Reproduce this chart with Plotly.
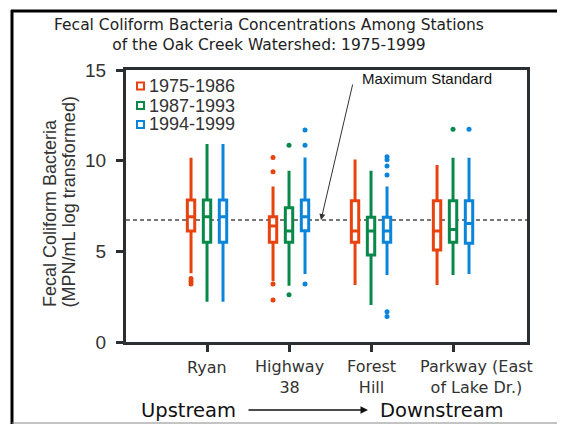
import plotly.graph_objects as go

# ---------------- data ----------------
stations = ["Ryan", "Highway 38", "Forest Hill", "Parkway (East of Lake Dr.)"]
station_lines = [["Ryan"], ["Highway", "38"], ["Forest", "Hill"], ["Parkway (East", "of Lake Dr.)"]]
periods = ["1975-1986", "1987-1993", "1994-1999"]

upper_1975 = [10.16, 8.57, 10.07, 9.76]
q3_1975 = [7.83, 6.91, 7.79, 7.79]
median_1975 = [6.91, 6.40, 6.12, 6.12]
q1_1975 = [6.12, 5.50, 5.50, 5.07]
lower_1975 = [3.79, 3.36, 3.14, 3.14]
outliers_1975 = [[3.5, 3.35, 3.2], [10.18, 9.39, 3.2, 2.32], [], []]

upper_1987 = [10.92, 9.45, 9.45, 10.16]
q3_1987 = [7.83, 7.41, 6.88, 7.79]
median_1987 = [6.91, 6.12, 6.12, 6.21]
q1_1987 = [5.50, 5.50, 4.80, 5.50]
lower_1987 = [2.22, 3.10, 2.04, 3.69]
outliers_1987 = [[], [10.85, 2.61], [], [11.73]]

upper_1994 = [10.92, 10.18, 8.57, 10.16]
q3_1994 = [7.83, 7.83, 6.88, 7.79]
median_1994 = [6.91, 6.91, 6.12, 6.54]
q1_1994 = [5.50, 6.14, 5.50, 5.44]
lower_1994 = [2.22, 3.75, 3.69, 3.75]
outliers_1994 = [[], [11.69, 10.85, 3.2], [10.22, 10.05, 9.7, 9.21, 1.67, 1.40], [11.73]]

max_standard = 6.73
y_ticks = [0, 5, 10, 15]

# ---------------- style / geometry ----------------
colors = ["#E8420F", "#08894A", "#0A85DA"]
offsets = [-0.195, 0.0, 0.195]
label_shift_px = [0, 0, 0, 23]      # last station label sits right of its tick
label_font = 16
label_first_line_px = 367
axis_color = "#2b2f31"
text_color = "#333333"

OFF = 8  # page body margin of the browser
W, H = 565 - OFF, 424 - OFF
L = 126 - OFF
T = 70 - OFF
R = W - (527 - OFF)
B = H - (342 - OFF)
PW, PH = W - L - R, H - T - B
X_RANGE = [-0.988, 3.902]
UNIT_PX = PW / (X_RANGE[1] - X_RANGE[0])


def xp(px):
    """window pixel x -> paper coordinate"""
    return (px - OFF - L) / PW


def yp(py):
    """window pixel y -> paper coordinate"""
    return (H - B - (py - OFF)) / PH


series = [
    (upper_1975, q3_1975, median_1975, q1_1975, lower_1975, outliers_1975),
    (upper_1987, q3_1987, median_1987, q1_1987, lower_1987, outliers_1987),
    (upper_1994, q3_1994, median_1994, q1_1994, lower_1994, outliers_1994),
]

fig = go.Figure()
for k, (up, q3, med, q1, lo, outs) in enumerate(series):
    xs = [i + offsets[k] for i in range(len(stations))]
    fig.add_trace(go.Box(
        x=xs, q1=q1, median=med, q3=q3, lowerfence=lo, upperfence=up,
        name=periods[k], width=0.09, whiskerwidth=0,
        line=dict(color=colors[k], width=3), fillcolor="white",
        boxpoints=False, showlegend=False, hoverinfo="skip",
    ))
    ox, oy = [], []
    for i, vals in enumerate(outs):
        for v in vals:
            ox.append(i + offsets[k])
            oy.append(v)
    fig.add_trace(go.Scatter(
        x=ox, y=oy, mode="markers",
        marker=dict(color=colors[k], size=5),
        showlegend=False, hoverinfo="skip",
    ))

shapes = []
# maximum standard dashed line
shapes.append(dict(type="line", xref="paper", yref="y", x0=0, x1=1,
                   y0=max_standard, y1=max_standard,
                   line=dict(color="#777777", width=2, dash="4px,3px"), layer="below"))
# outer frame
shapes.append(dict(type="line", xref="paper", yref="paper", x0=xp(12), x1=xp(12), y0=yp(10), y1=yp(424),
                   line=dict(color="black", width=3)))
shapes.append(dict(type="line", xref="paper", yref="paper", x0=xp(11), x1=xp(562), y0=yp(11), y1=yp(11),
                   line=dict(color="black", width=3)))
shapes.append(dict(type="line", xref="paper", yref="paper", x0=xp(561), x1=xp(561), y0=yp(11), y1=yp(423),
                   line=dict(color="#888888", width=1)))
shapes.append(dict(type="line", xref="paper", yref="paper", x0=xp(12), x1=xp(561), y0=yp(423), y1=yp(423),
                   line=dict(color="#888888", width=1)))

annotations = []
# station labels under the category ticks (one text block per station)
line_gap = label_font * 1.3
for i, lines in enumerate(station_lines):
    cy = label_first_line_px + (len(lines) - 1) * line_gap / 2
    annotations.append(dict(text="<br>".join(lines), xref="x", yref="paper",
                            x=i + label_shift_px[i] / UNIT_PX, y=yp(cy),
                            xanchor="center", yanchor="middle", align="center", showarrow=False,
                            font=dict(family="DejaVu Sans", size=label_font, color=text_color)))

# manual legend
legend_y = [86, 105.5, 124.5]
for k in range(3):
    cy = legend_y[k]
    shapes.append(dict(type="rect", xref="paper", yref="paper",
                       x0=xp(137), x1=xp(144), y0=yp(cy - 3.5), y1=yp(cy + 3.5),
                       line=dict(color=colors[k], width=2), fillcolor="white"))
    annotations.append(dict(text=periods[k], xref="paper", yref="paper", x=xp(147), y=yp(cy),
                            xanchor="left", yanchor="middle", showarrow=False,
                            font=dict(family="Liberation Sans, Arial", size=18, color=text_color)))

# title (two lines, one text block)
annotations.append(dict(text="Fecal Coliform Bacteria Concentrations Among Stations<br>"
                             "of the Oak Creek Watershed: 1975-1999",
                        xref="paper", yref="paper", x=xp(269), y=yp(35), xanchor="center", yanchor="middle",
                        showarrow=False, align="center",
                        font=dict(family="DejaVu Sans", size=15.5, color="#222222")))

# y-axis title (two lines)
annotations.append(dict(text="Fecal Coliform Bacteria", xref="paper", yref="paper",
                        x=xp(50), y=yp(309), xanchor="center", yanchor="bottom", textangle=-90,
                        showarrow=False, font=dict(family="Liberation Sans, Arial", size=18, color=text_color)))
annotations.append(dict(text="(MPN/mL log transformed)", xref="paper", yref="paper",
                        x=xp(68), y=yp(309), xanchor="center", yanchor="bottom", textangle=-90,
                        showarrow=False, font=dict(family="Liberation Sans, Arial", size=18, color=text_color)))

# maximum standard label and arrow
annotations.append(dict(text="Maximum Standard", xref="paper", yref="paper", x=xp(360), y=yp(78),
                        xanchor="left", yanchor="middle", showarrow=False,
                        font=dict(family="Liberation Sans, Arial", size=15, color="#111111")))
annotations.append(dict(text="", xref="paper", yref="y", x=xp(321), y=max_standard,
                        ax=353 - 321, ay=83 - 220, showarrow=True, arrowhead=2, arrowsize=1.2,
                        arrowwidth=1, arrowcolor="#333333"))

# upstream -> downstream
annotations.append(dict(text="Upstream", xref="paper", yref="paper", x=xp(139), y=yp(410),
                        xanchor="left", yanchor="middle", showarrow=False,
                        font=dict(family="DejaVu Sans", size=19.5, color="#111111")))
annotations.append(dict(text="Downstream", xref="paper", yref="paper", x=xp(378), y=yp(410),
                        xanchor="left", yanchor="middle", showarrow=False,
                        font=dict(family="DejaVu Sans", size=19.5, color="#111111")))
annotations.append(dict(text="", xref="paper", yref="paper", x=xp(368), y=yp(410),
                        ax=247 - 368, ay=0, showarrow=True, arrowhead=2, arrowsize=1,
                        arrowwidth=1.5, arrowcolor="#111111"))

fig.update_layout(
    width=W, height=H,
    margin=dict(l=L, r=R, t=T, b=B, autoexpand=False),
    paper_bgcolor="white", plot_bgcolor="white",
    showlegend=False,
    shapes=shapes, annotations=annotations,
    xaxis=dict(range=X_RANGE, tickmode="array", tickvals=list(range(len(stations))),
               ticktext=stations, showticklabels=False,
               ticks="outside", ticklen=7, tickwidth=3, tickcolor=axis_color,
               showline=True, linewidth=3, linecolor=axis_color, mirror=True,
               showgrid=False, zeroline=False, automargin=False),
    yaxis=dict(range=[0, 15], tickmode="array", tickvals=y_ticks,
               ticks="outside", ticklen=7, tickwidth=3, tickcolor=axis_color,
               showline=True, linewidth=3, linecolor=axis_color, mirror=True,
               showgrid=False, zeroline=False, ticklabelstandoff=6, automargin=False,
               tickfont=dict(family="Liberation Sans, Arial", size=19, color=text_color)),
)

fig.write_html("out.html")
